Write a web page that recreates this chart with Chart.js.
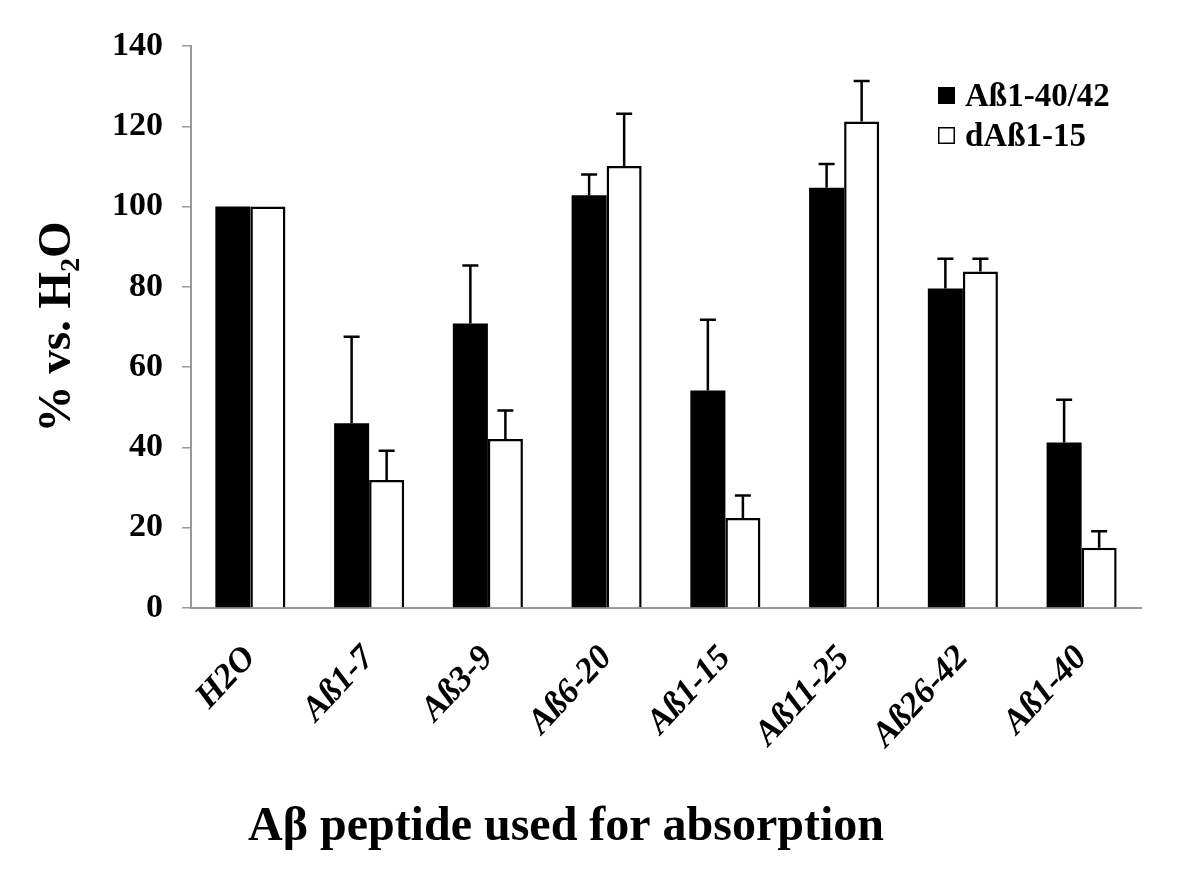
<!DOCTYPE html>
<html>
<head>
<meta charset="utf-8">
<script src="https://cdn.jsdelivr.net/npm/chart.js@4"></script>
<style>
  html, body { margin: 0; padding: 0; background: #fff; }
  #wrap { width: 1200px; height: 874px; }
</style>
</head>
<body>
<div id="wrap"><canvas id="chart" width="1200" height="874"></canvas></div>
<script>
const categories = ['H2O', 'Aß1-7', 'Aß3-9', 'Aß6-20', 'Aß1-15', 'Aß11-25', 'Aß26-42', 'Aß1-40']
const seriesNames = ['Aß1-40/42', 'dAß1-15']
const fullValues = [100, 46, 70.9, 102.8, 54.2, 104.7, 79.6, 41.2]
const fullErrors = [0, 21.6, 14.4, 5.2, 17.6, 5.9, 7.4, 10.7]
const shortValues = [100, 31.9, 42.1, 110.1, 22.4, 121.2, 83.8, 15.0]
const shortErrors = [0, 7.3, 7.1, 13.0, 5.6, 10.1, 3.2, 4.1]
const yTicks = [0, 20, 40, 60, 80, 100, 120, 140]
const xTitle = 'Aβ peptide used for absorption'

const serif = "'Liberation Serif', 'Times New Roman', serif"

// upward error bars with a cap, drawn through the y scale
const errorBars = {
  id: 'errorBars',
  afterDatasetsDraw(chart) {
    const c = chart.ctx
    const y = chart.scales.y
    c.save()
    c.strokeStyle = '#000'
    c.lineWidth = 2.5
    chart.data.datasets.forEach((ds, i) => {
      const meta = chart.getDatasetMeta(i)
      meta.data.forEach((bar, j) => {
        const e = ds.errors[j]
        if (!e) return
        const top = y.getPixelForValue(ds.data[j] + e)
        c.beginPath()
        c.moveTo(bar.x, bar.y)
        c.lineTo(bar.x, top)
        c.moveTo(bar.x - 8, top)
        c.lineTo(bar.x + 8, top)
        c.stroke()
      })
    })
    c.restore()
  }
}

// legend in the top right corner, plus the x title (sits left of centre in the original)
const extras = {
  id: 'extras',
  afterDraw(chart) {
    const c = chart.ctx
    const a = chart.chartArea
    const x = a.right - 203
    let yy = a.top + 49
    c.save()
    c.font = 'bold 33px ' + serif
    c.textBaseline = 'middle'
    chart.data.datasets.forEach(ds => {
      c.fillStyle = ds.backgroundColor
      c.fillRect(x, yy - 8, 17, 17)
      c.strokeStyle = '#000'
      c.lineWidth = 1.5
      c.strokeRect(x + 0.75, yy - 7.25, 15.5, 15.5)
      c.fillStyle = '#000'
      c.fillText(ds.label, x + 27, yy + 2)
      yy += 40
    })

    c.font = 'bold 48px ' + serif
    c.textAlign = 'center'
    c.fillText(xTitle, (a.left + a.right) / 2 - 100, chart.height - 46)
    c.restore()
  }
}

new Chart(document.getElementById('chart'), {
  type: 'bar',
  data: {
    labels: categories,
    datasets: [{
      label: seriesNames[0],
      data: fullValues,
      errors: fullErrors,
      backgroundColor: '#000',
      borderColor: '#000',
      borderWidth: 0
    }, {
      label: seriesNames[1],
      data: shortValues,
      errors: shortErrors,
      backgroundColor: '#fff',
      borderColor: '#000',
      borderWidth: 2.5
    }]
  },
  options: {
    responsive: false,
    animation: false,
    layout: { padding: { top: 46, right: 59, left: 0, bottom: 0 } },
    datasets: {
      bar: { categoryPercentage: 0.59, barPercentage: 1 }
    },
    plugins: {
      legend: { display: false },
      tooltip: { enabled: false }
    },
    scales: {
      x: {
        afterFit: s => { s.height = 266 },
        grid: { display: false, drawTicks: false },
        border: { color: '#999', width: 2 },
        ticks: {
          color: '#000',
          font: { family: serif, size: 35, weight: 'bold', style: 'italic' },
          minRotation: 47,
          maxRotation: 47,
          padding: 30
        },
        title: { display: false }
      },
      y: {
        min: 0,
        max: 140,
        afterFit: s => { s.width = 191 },
        afterBuildTicks: s => { s.ticks = yTicks.map(v => ({ value: v })) },
        grid: { drawOnChartArea: false, color: '#999', tickLength: 9, lineWidth: 1.5 },
        border: { color: '#999', width: 2 },
        ticks: {
          color: '#000',
          font: { family: serif, size: 34, weight: 'bold' },
          padding: 19
        },
        title: {
          display: true,
          text: '% vs. H₂O',
          color: '#000',
          font: { family: serif, size: 47, weight: 'bold' },
          padding: { top: 30, bottom: 0 }
        }
      }
    }
  },
  plugins: [errorBars, extras]
})
</script>
</body>
</html>
